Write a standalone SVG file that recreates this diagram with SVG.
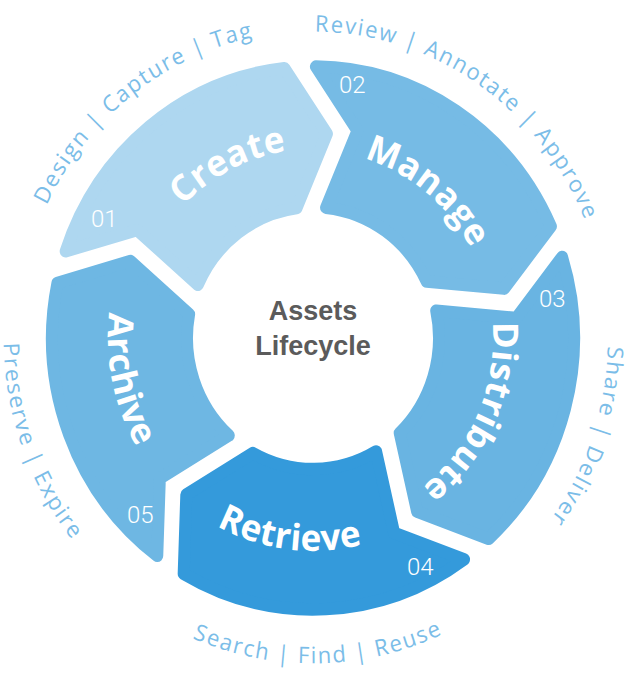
<svg xmlns="http://www.w3.org/2000/svg" width="633" height="692" viewBox="0 0 633 692">
<style>
.seg{stroke-width:12;stroke-linejoin:round}
.name{font-family:"Open Sans","Liberation Sans",sans-serif;font-weight:700;font-size:35px;fill:#fff;letter-spacing:0.5px;text-anchor:middle}
.num{font-family:Roboto,"Liberation Sans",sans-serif;font-weight:300;font-size:24px;fill:#fff}
.lab{font-family:"Open Sans","Liberation Sans",sans-serif;font-weight:400;font-size:22px;fill:#7BBDE8;letter-spacing:1.7px;text-anchor:middle}
.ctr{font-family:"Liberation Sans",Arial,sans-serif;font-weight:700;font-size:27px;fill:#5B5B5B;text-anchor:middle}
</style>
<defs>
<path id="seg" d="M260.73,12.01 A261,261 0 0 1 99.02,241.48 L40.75,192.61 L50.24,115.54 A126,126 0 0 0 124.78,17.42 L197.64,51.44 Z"/>
<path id="tCreate" d="M-174.0,53.2 A182,182 0 0 1 145.3,-109.5"/>
<path id="tManage" d="M-118.1,-135.8 A180,180 0 0 1 157.4,87.3"/>
<path id="tDistribute" d="M100.7,-149.2 A180,180 0 0 1 -43.5,174.7"/>
<path id="tRetrieve" d="M-204.7,10.7 A205,205 0 0 0 196.0,59.9"/>
<path id="tArchive" d="M-76.8,-190.1 A205,205 0 0 0 7.2,204.9"/>
<path id="lCreate" d="M-247.4,160.7 A295,295 0 0 1 215.8,-201.2"/>
<path id="lManage" d="M-229.2,-185.6 A295,295 0 0 1 258.0,143.0"/>
<path id="lDistribute" d="M120.0,-269.5 A295,295 0 0 1 -71.4,286.2"/>
<path id="lRetrieve" d="M-311.3,32.7 A313,313 0 0 0 312.2,21.8"/>
<path id="lArchive" d="M-131.0,-280.9 A310,310 0 0 0 80.2,299.4"/>
</defs>
<rect width="633" height="692" fill="#fff"/>
<g id="create">
<use href="#seg" class="seg" fill="#AED7F0" stroke="#AED7F0" transform="translate(313,338) scale(1,1.04) rotate(-164)"/>
<text class="name" transform="translate(313,338) scale(1,1.04)"><textPath href="#tCreate" startOffset="50%">Create</textPath></text>
<text class="num" x="91" y="227">01</text>
<text class="lab" transform="translate(313,338) scale(1,1.04)"><textPath href="#lCreate" startOffset="50%">Design | Capture | Tag</textPath></text>
</g>
<g id="manage">
<use href="#seg" class="seg" fill="#76BBE5" stroke="#76BBE5" transform="translate(313,338) scale(1,1.04) rotate(-92)"/>
<text class="name" transform="translate(313,338) scale(1,1.04)"><textPath href="#tManage" startOffset="50%">Manage</textPath></text>
<text class="num" x="339" y="93">02</text>
<text class="lab" transform="translate(313,338) scale(1,1.04)"><textPath href="#lManage" startOffset="50%">Review | Annotate | Approve</textPath></text>
</g>
<g id="distribute">
<use href="#seg" class="seg" fill="#69B4E2" stroke="#69B4E2" transform="translate(313,338) scale(1,1.04) rotate(-20)"/>
<text class="name" transform="translate(313,338) scale(1,1.04)"><textPath href="#tDistribute" startOffset="50%">Distribute</textPath></text>
<text class="num" x="539" y="307">03</text>
<text class="lab" transform="translate(313,338) scale(1,1.04)"><textPath href="#lDistribute" startOffset="50%">Share | Deliver</textPath></text>
</g>
<g id="retrieve">
<use href="#seg" class="seg" fill="#349ADB" stroke="#349ADB" transform="translate(313,338) scale(1,1.04) rotate(52)"/>
<text class="name" transform="translate(313,338) scale(1,1.04)"><textPath href="#tRetrieve" startOffset="50%">Retrieve</textPath></text>
<text class="num" x="407" y="575">04</text>
<text class="lab" transform="translate(313,338) scale(1,1.04)"><textPath href="#lRetrieve" startOffset="50%">Search | Find | Reuse</textPath></text>
</g>
<g id="archive">
<use href="#seg" class="seg" fill="#6EB7E3" stroke="#6EB7E3" transform="translate(313,338) scale(1,1.04) rotate(124)"/>
<text class="name" transform="translate(313,338) scale(1,1.04)"><textPath href="#tArchive" startOffset="50%">Archive</textPath></text>
<text class="num" x="127" y="523">05</text>
<text class="lab" transform="translate(313,338) scale(1,1.04)"><textPath href="#lArchive" startOffset="50%">Preserve | Expire</textPath></text>
</g>
<g id="center">
<text class="ctr" x="313" y="320">Assets</text>
<text class="ctr" x="313" y="355">Lifecycle</text>
</g>
</svg>
